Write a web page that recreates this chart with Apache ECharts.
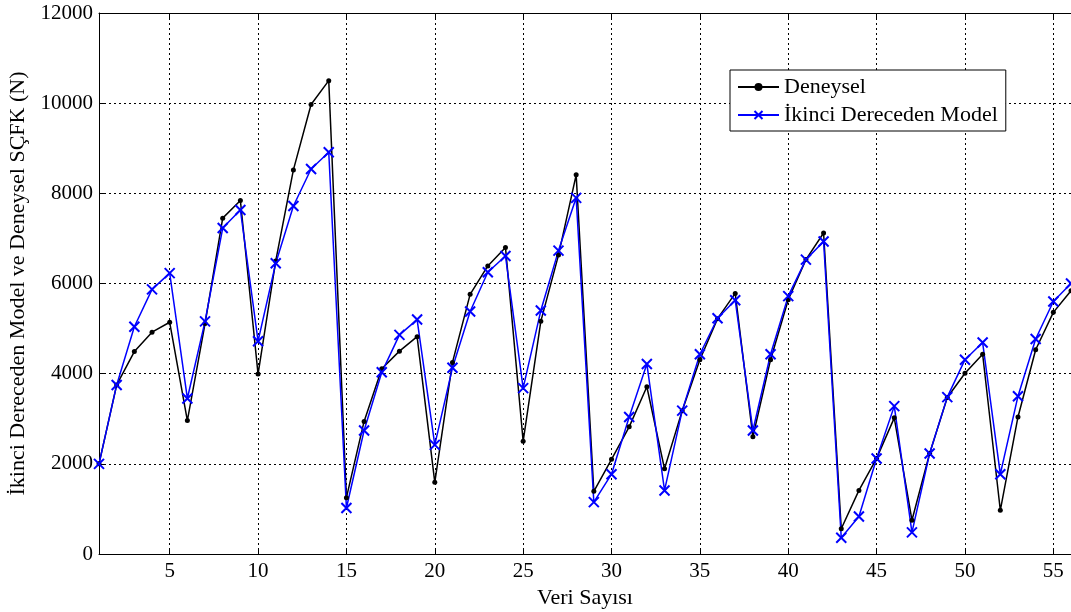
<!DOCTYPE html>
<html><head><meta charset="utf-8">
<script src="https://cdn.jsdelivr.net/npm/echarts@6/dist/echarts.min.js"></script>
<style>html,body{margin:0;padding:0;background:#fff}#c{width:1071px;height:612px}</style>
</head><body><div id="c"></div>
<script>
const categories = [];
for (let i = 1; i <= 56; i++) categories.push(String(i));
const deneysel = [2000,3750,4490,4920,5140,2960,5110,7450,7840,3990,6500,8520,9970,10500,1250,2940,4110,4500,4820,1590,4250,5760,6390,6800,2500,5160,6630,8410,1390,2100,2820,3710,1890,3180,4310,5220,5780,2600,4310,5640,6530,7120,560,1410,2120,3020,750,2230,3470,4010,4430,970,3040,4530,5360,5840];
const model = [2000,3750,5040,5870,6230,3450,5160,7230,7630,4720,6450,7720,8540,8910,1020,2740,4030,4860,5200,2420,4130,5380,6250,6610,3680,5400,6730,7900,1150,1770,3040,4215,1410,3180,4430,5230,5630,2740,4430,5720,6530,6930,360,830,2120,3280,480,2230,3480,4310,4690,1770,3500,4770,5600,6000];
const font = '"Liberation Serif","DejaVu Serif",serif';
const chart = echarts.init(document.getElementById('c'));
const isFive = (idx) => (idx + 1) % 5 === 0;
chart.setOption({
  animation: false,
  backgroundColor: '#fff',
  grid: {left: 99, right: 0, top: 13, bottom: 58, containLabel: false, outerBoundsMode: 'none'},
  legend: {
    orient: 'vertical', left: 730, top: 70,
    backgroundColor: '#fff', borderColor: '#000', borderWidth: 1,
    padding: [6, 8, 5, 7], itemGap: 6, itemWidth: 41, itemHeight: 10,
    textStyle: {fontFamily: font, fontSize: 22, color: '#000'},
    data: ['Deneysel', 'İkinci Dereceden Model']
  },
  xAxis: [{
    type: 'category', data: categories, boundaryGap: false,
    name: 'Veri Sayısı', nameLocation: 'middle', nameGap: 31,
    nameTextStyle: {fontFamily: font, fontSize: 22, color: '#000'},
    axisLine: {lineStyle: {color: '#000', width: 1}},
    axisTick: {inside: true, length: 6, interval: (i) => isFive(i), lineStyle: {color: '#000'}},
    axisLabel: {interval: (i) => isFive(i), fontFamily: font, fontSize: 21, color: '#000', margin: 7},
    splitLine: {show: true, interval: (i) => isFive(i), lineStyle: {color: '#000', type: [2, 3], width: 1}}
  }, {
    type: 'category', data: categories, boundaryGap: false, position: 'top',
    axisLine: {lineStyle: {color: '#000', width: 1}},
    axisTick: {inside: true, length: 6, interval: (i) => isFive(i), lineStyle: {color: '#000'}},
    axisLabel: {show: false}
  }],
  yAxis: {
    type: 'value', min: 0, max: 12000, interval: 2000,
    name: 'İkinci Dereceden Model ve Deneysel SÇFK (N)', nameLocation: 'middle', nameGap: 70,
    nameTextStyle: {fontFamily: font, fontSize: 22, color: '#000'},
    axisLine: {show: true, lineStyle: {color: '#000', width: 1}},
    axisTick: {show: true, inside: true, length: 6, lineStyle: {color: '#000'}},
    axisLabel: {fontFamily: font, fontSize: 21, color: '#000', margin: 6,
      formatter: (v) => String(v)},
    splitLine: {show: true, lineStyle: {color: '#000', type: [2, 3], width: 1}}
  },
  series: [{
    name: 'Deneysel', type: 'line', data: deneysel,
    symbol: 'circle', symbolSize: 5, showAllSymbol: true,
    lineStyle: {color: '#000', width: 1.5},
    itemStyle: {color: '#000'}
  }, {
    name: 'İkinci Dereceden Model', type: 'line', data: model,
    symbol: 'path://M0,0L10,10M10,0L0,10', symbolSize: 10, showAllSymbol: true,
    lineStyle: {color: '#0000ff', width: 1.5},
    itemStyle: {color: '#0000ff', borderColor: '#0000ff', borderWidth: 2}
  }]
});
</script></body></html>
